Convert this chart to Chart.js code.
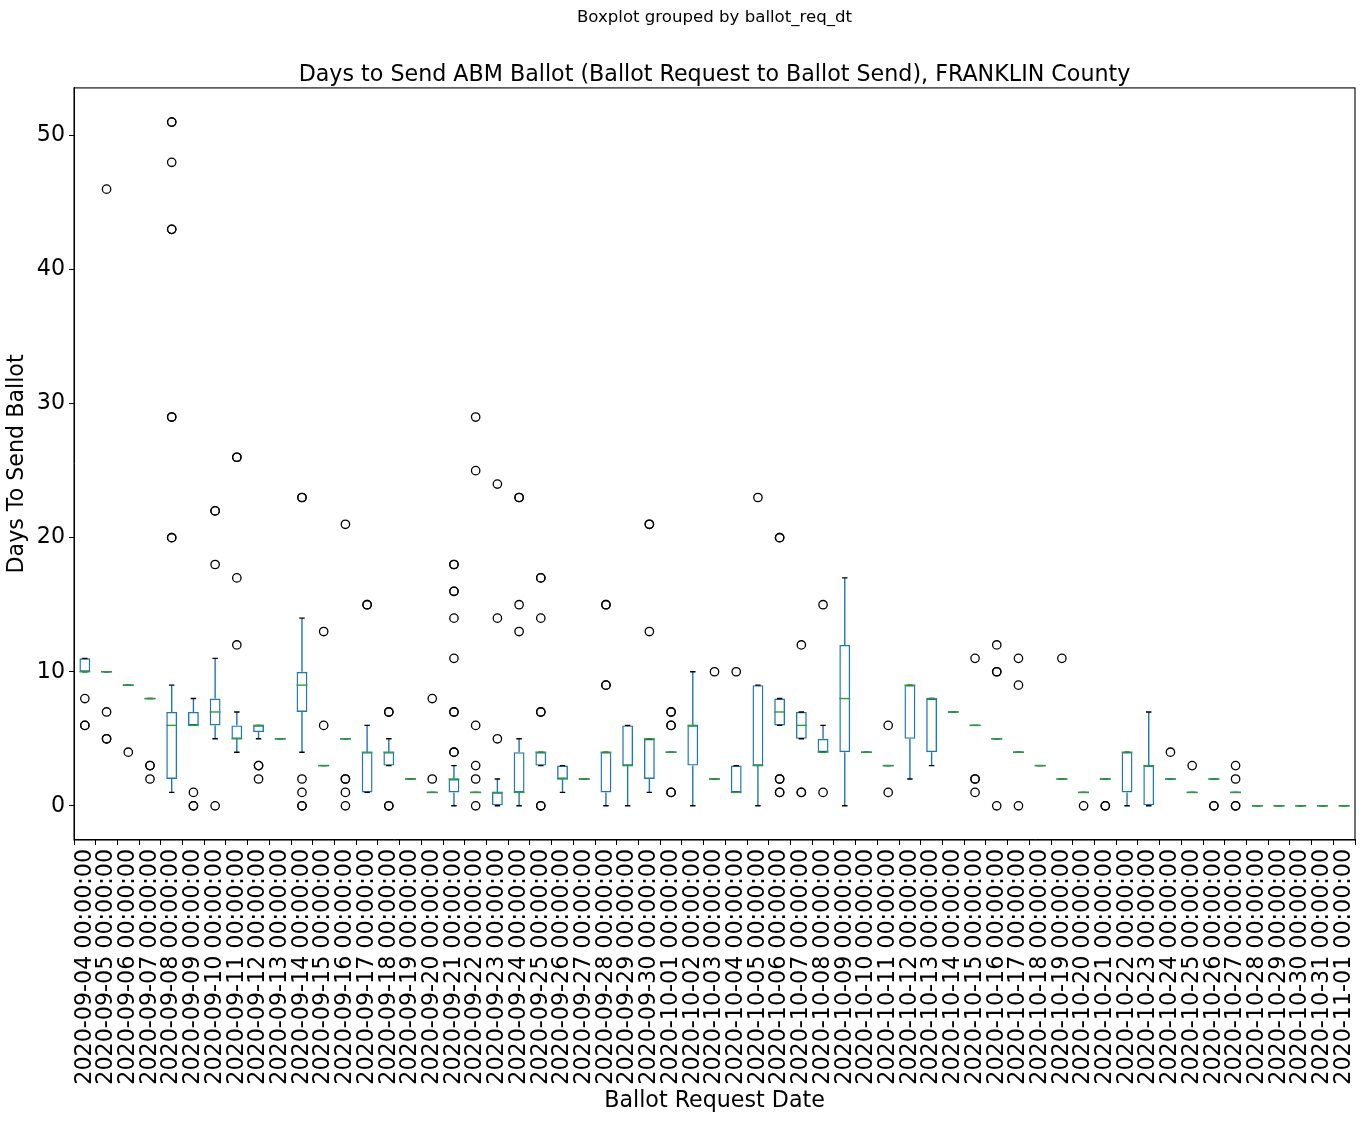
<!DOCTYPE html>
<html>
<head>
<meta charset="utf-8">
<script src="https://cdn.jsdelivr.net/npm/chart.js@4/dist/chart.umd.min.js"></script>
<style>
  html, body { margin: 0; padding: 0; background: #fff; }
  #wrap { width: 1363px; height: 1122px; }
</style>
</head>
<body>
<div id="wrap"><canvas id="boxChart" width="1363" height="1122"></canvas></div>
<script>
// Ballot request dates (categories)
const categories = [
  "2020-09-04", "2020-09-05", "2020-09-06", "2020-09-07", "2020-09-08", "2020-09-09",
  "2020-09-10", "2020-09-11", "2020-09-12", "2020-09-13", "2020-09-14", "2020-09-15",
  "2020-09-16", "2020-09-17", "2020-09-18", "2020-09-19", "2020-09-20", "2020-09-21",
  "2020-09-22", "2020-09-23", "2020-09-24", "2020-09-25", "2020-09-26", "2020-09-27",
  "2020-09-28", "2020-09-29", "2020-09-30", "2020-10-01", "2020-10-02", "2020-10-03",
  "2020-10-04", "2020-10-05", "2020-10-06", "2020-10-07", "2020-10-08", "2020-10-09",
  "2020-10-10", "2020-10-11", "2020-10-12", "2020-10-13", "2020-10-14", "2020-10-15",
  "2020-10-16", "2020-10-17", "2020-10-18", "2020-10-19", "2020-10-20", "2020-10-21",
  "2020-10-22", "2020-10-23", "2020-10-24", "2020-10-25", "2020-10-26", "2020-10-27",
  "2020-10-28", "2020-10-29", "2020-10-30", "2020-10-31", "2020-11-01"
];
const tickLabels = categories.map((d) => d + " 00:00:00");

// Box statistics (days to send ballot)
const whiskerLow = [10, 10, 9, 8, 1, 6, 5, 4, 5, 5, 4, 3, 5, 1, 3, 2, 1, 0, 1, 0, 0, 3, 1, 2, 0, 0, 1, 4, 0, 2,
  1, 0, 6, 5, 4, 0, 4, 3, 2, 3, 7, 6, 5, 4, 3, 2, 1, 2, 0, 0, 2, 1, 2, 1, 0, 0, 0, 0, 0];
const q1 = [10, 10, 9, 8, 2, 6, 6, 5, 5.5, 5, 7, 3, 5, 1, 3, 2, 1, 1, 1, 0, 1, 3, 2, 2, 1, 3, 2, 4, 3, 2,
  1, 3, 6, 5, 4, 4, 4, 3, 5, 4, 7, 6, 5, 4, 3, 2, 1, 2, 1, 0, 2, 1, 2, 1, 0, 0, 0, 0, 0];
const median = [10, 10, 9, 8, 6, 6, 7, 5, 6, 5, 9, 3, 5, 4, 4, 2, 1, 2, 1, 1, 1, 4, 2, 2, 4, 3, 5, 4, 6, 2,
  1, 3, 7, 6, 4, 8, 4, 3, 9, 8, 7, 6, 5, 4, 3, 2, 1, 2, 4, 3, 2, 1, 2, 1, 0, 0, 0, 0, 0];
const q3 = [11, 10, 9, 8, 7, 7, 8, 6, 6, 5, 10, 3, 5, 4, 4, 2, 1, 2, 1, 1, 4, 4, 3, 2, 4, 6, 5, 4, 6, 2,
  3, 9, 8, 7, 5, 12, 4, 3, 9, 8, 7, 6, 5, 4, 3, 2, 1, 2, 4, 3, 2, 1, 2, 1, 0, 0, 0, 0, 0];
const whiskerHigh = [11, 10, 9, 8, 9, 8, 11, 7, 6, 5, 14, 3, 5, 6, 5, 2, 1, 3, 1, 2, 5, 4, 3, 2, 4, 6, 5, 4, 10, 2,
  3, 9, 8, 7, 6, 17, 4, 3, 9, 8, 7, 6, 5, 4, 3, 2, 1, 2, 4, 7, 2, 1, 2, 1, 0, 0, 0, 0, 0];
const outliers = [
  [8, 6, 6], [46, 7, 5, 5], [4], [3, 3, 2], [51, 51, 48, 43, 43, 29, 29, 20, 20], [1, 0, 0],
  [22, 22, 18, 0], [26, 26, 17, 12], [3, 3, 2], [], [23, 23, 2, 1, 0, 0], [13, 6],
  [21, 2, 2, 1, 0], [15, 15], [7, 7, 0, 0], [], [8, 2], [18, 18, 16, 16, 14, 11, 7, 7, 4, 4],
  [29, 25, 6, 3, 2, 0], [24, 14, 5], [23, 23, 15, 13], [17, 17, 14, 7, 7, 0, 0], [], [],
  [15, 15, 9, 9], [], [21, 21, 13], [7, 7, 6, 6, 1, 1], [], [10],
  [10], [23], [20, 20, 2, 2, 1, 1], [12, 1, 1], [15, 1], [],
  [], [6, 1], [], [], [], [11, 2, 2, 1],
  [12, 10, 10, 0], [11, 9, 0], [], [11], [0], [0, 0],
  [], [], [4], [3], [0, 0], [3, 2, 0, 0],
  [], [], [], [], []
];
const yTicks = [0, 10, 20, 30, 40, 50];

const BLUE = "#1f77b4";
const GREEN = "#2ca02c";
const FONT = "'DejaVu Sans', sans-serif";

const outlierPoints = [];
outliers.forEach((vals, i) => {
  vals.forEach((v) => outlierPoints.push({ x: tickLabels[i], y: v }));
});

// Whiskers, caps and medians drawn from the scales
const boxParts = {
  id: "boxParts",
  afterDatasetDraw(chart, args) {
    if (args.index !== 0) return;
    const ctx = chart.ctx;
    const xs = chart.scales.x;
    const ys = chart.scales.y;
    const step = xs.getPixelForValue(1) - xs.getPixelForValue(0);
    const half = step * 0.25;
    const capHalf = step * 0.125;
    ctx.save();
    ctx.lineWidth = 1.4;
    categories.forEach((c, i) => {
      const x = xs.getPixelForValue(i);
      // whiskers
      ctx.strokeStyle = BLUE;
      ctx.beginPath();
      ctx.moveTo(x, ys.getPixelForValue(q1[i]));
      ctx.lineTo(x, ys.getPixelForValue(whiskerLow[i]));
      ctx.moveTo(x, ys.getPixelForValue(q3[i]));
      ctx.lineTo(x, ys.getPixelForValue(whiskerHigh[i]));
      ctx.stroke();
      // caps
      ctx.strokeStyle = "#000";
      ctx.beginPath();
      [whiskerLow[i], whiskerHigh[i]].forEach((v) => {
        const y = ys.getPixelForValue(v);
        ctx.moveTo(x - capHalf, y);
        ctx.lineTo(x + capHalf, y);
      });
      ctx.stroke();
      // flat boxes
      if (q1[i] === q3[i]) {
        ctx.strokeStyle = BLUE;
        ctx.beginPath();
        const y = ys.getPixelForValue(q1[i]);
        ctx.moveTo(x - half, y);
        ctx.lineTo(x + half, y);
        ctx.stroke();
      }
      // median
      ctx.strokeStyle = GREEN;
      ctx.beginPath();
      const ym = ys.getPixelForValue(median[i]);
      ctx.moveTo(x - half, ym);
      ctx.lineTo(x + half, ym);
      ctx.stroke();
    });
    ctx.restore();
  },
};

const frame = {
  id: "frame",
  afterDraw(chart) {
    const a = chart.chartArea;
    const ctx = chart.ctx;
    ctx.save();
    ctx.strokeStyle = "#000";
    ctx.lineWidth = 1.1;
    ctx.strokeRect(a.left, a.top, a.right - a.left, a.bottom - a.top);
    ctx.restore();
  },
};

new Chart(document.getElementById("boxChart"), {
  data: {
    labels: tickLabels,
    datasets: [
      {
        type: "bar",
        data: q1.map((v, i) => [v, q3[i]]),
        backgroundColor: "rgba(0,0,0,0)",
        borderColor: BLUE,
        borderWidth: 1.4,
        borderSkipped: false,
        barPercentage: 0.5,
        categoryPercentage: 1.0,
        order: 2,
      },
      {
        type: "line",
        data: outlierPoints,
        showLine: false,
        pointStyle: "circle",
        pointRadius: 4.2,
        pointBorderWidth: 1.3,
        pointBorderColor: "#000",
        pointBackgroundColor: "rgba(0,0,0,0)",
        order: 1,
      },
    ],
  },
  options: {
    responsive: false,
    animation: false,
    layout: { padding: { left: 0, right: 8, top: 0, bottom: 0 } },
    plugins: {
      legend: { display: false },
      tooltip: { enabled: false },
      title: {
        display: true,
        text: "Boxplot grouped by ballot_req_dt",
        fullSize: false,
        color: "#000",
        font: { family: FONT, size: 16.6, weight: "normal" },
        padding: { top: 8, bottom: 36 },
      },
      subtitle: {
        display: true,
        text: "Days to Send ABM Ballot (Ballot Request to Ballot Send), FRANKLIN County",
        fullSize: false,
        color: "#000",
        font: { family: FONT, size: 22.2, weight: "normal", lineHeight: 1.0 },
        padding: { top: 0, bottom: 1.8 },
      },
    },
    scales: {
      x: {
        type: "category",
        offset: true,
        grid: { display: true, drawOnChartArea: false, drawTicks: true, tickLength: 5, color: "#000" },
        border: { display: true, color: "#000" },
        ticks: {
          autoSkip: false,
          minRotation: 90,
          maxRotation: 90,
          padding: 4,
          color: "#000",
          font: { family: FONT, size: 22.2 },
        },
        title: {
          display: true,
          text: "Ballot Request Date",
          color: "#000",
          font: { family: FONT, size: 22.2 },
          padding: { top: 0, bottom: 7 },
        },
        afterFit: (s) => {
          s.height = 282;
          s.paddingLeft = 0;
          s.paddingRight = 0;
        },
      },
      y: {
        type: "linear",
        min: -2.55,
        max: 53.55,
        afterBuildTicks: (s) => { s.ticks = yTicks.map((v) => ({ value: v })); },
        grid: { display: true, drawOnChartArea: false, drawTicks: true, tickLength: 5, color: "#000" },
        border: { display: true, color: "#000" },
        ticks: {
          padding: 4,
          color: "#000",
          font: { family: FONT, size: 22.2 },
        },
        title: {
          display: true,
          text: "Days To Send Ballot",
          color: "#000",
          font: { family: FONT, size: 22.2 },
          padding: { top: 4, bottom: 4 },
        },
        afterFit: (s) => {
          s.width = 74;
          s.paddingTop = 0;
          s.paddingBottom = 0;
        },
      },
    },
  },
  plugins: [boxParts, frame],
});
</script>
</body>
</html>
